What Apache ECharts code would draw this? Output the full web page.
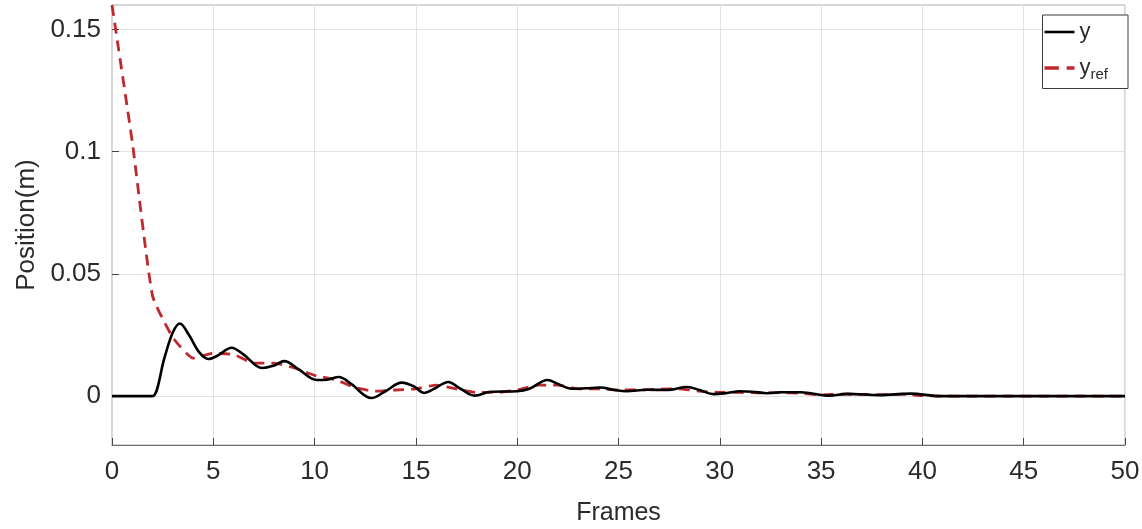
<!DOCTYPE html>
<html>
<head>
<meta charset="utf-8">
<script src="https://cdn.jsdelivr.net/npm/echarts@6/dist/echarts.min.js"></script>
<style>
html,body{margin:0;padding:0;background:#fff;}
#chart{width:1142px;height:529px;}
</style>
</head>
<body>
<div id="chart"></div>
<script>
// measured output y (black solid)
const yFrames = [0, 1.7, 2.0, 2.6, 3.0, 3.35, 3.8, 4.3, 4.75, 5.2, 5.9, 6.5, 7.4, 8.0, 8.5, 9.2, 10.1, 10.6, 11.2, 11.8, 12.8, 13.5, 14.3, 14.9, 15.4, 15.9, 16.6, 17.2, 17.9, 18.7, 20.0, 20.6, 21.5, 22.0, 22.7, 23.4, 24.1, 24.8, 25.4, 26.4, 27.4, 28.4, 29.0, 29.7, 30.3, 31.0, 31.6, 32.3, 33.0, 34.0, 35.4, 36.3, 37.9, 39.4, 40.9, 45, 50];
const yValues = [0, 0, 0, 0.016, 0.026, 0.0297, 0.025, 0.018, 0.0152, 0.0165, 0.0198, 0.017, 0.0115, 0.0125, 0.0143, 0.011, 0.0066, 0.0067, 0.0078, 0.005, -0.0008, 0.002, 0.0055, 0.004, 0.0013, 0.003, 0.0058, 0.003, 0.0002, 0.0018, 0.002, 0.003, 0.0066, 0.005, 0.003, 0.0032, 0.0035, 0.0025, 0.002, 0.0026, 0.0025, 0.0037, 0.0025, 0.0008, 0.0012, 0.002, 0.0018, 0.0012, 0.0016, 0.0016, 0.0002, 0.0009, 0.0004, 0.001, 0.0, 0.0, 0.0];
// reference y_ref (red dashed), one value per frame
const refFrames = [0,1,2,3,4,5,6,7,8,9,10,11,12,13,14,15,16,17,18,19,20,21,22,23,24,25,26,27,28,29,30,31,32,33,34,35,36,37,38,39,40,41,42,43,44,45,46,47,48,49,50];
const refValues = [0.16, 0.104, 0.041, 0.024, 0.0155, 0.0175, 0.017, 0.0135, 0.0135, 0.0115, 0.0085, 0.0068, 0.0035, 0.002, 0.0025, 0.003, 0.0045, 0.003, 0.0015, 0.0015, 0.0025, 0.0045, 0.0045, 0.003, 0.003, 0.0025, 0.0025, 0.0028, 0.003, 0.002, 0.0015, 0.0015, 0.0013, 0.0014, 0.0012, 0.0005, 0.0008, 0.0007, 0.0006, 0.0008, 0.0002, 0, 0, 0, 0, 0, 0, 0, 0, 0, 0];
const yTicks = [0, 0.05, 0.1, 0.15];
const xTicks = [0, 5, 10, 15, 20, 25, 30, 35, 40, 45, 50];

const font = 'Liberation Sans, Arial, Helvetica, sans-serif';
const textColor = '#2b2b2b';
const chart = echarts.init(document.getElementById('chart'), null, {renderer: 'canvas'});
chart.setOption({
  animation: false,
  backgroundColor: '#fff',
  grid: {left: 112, right: 17, top: 5, bottom: 84, containLabel: false, outerBoundsMode: 'none',
    show: true, borderColor: '#b0b0b0', borderWidth: 1},
  legend: {
    orient: 'vertical', right: 14, top: 15,
    padding: [6, 20, 6, 2],
    borderColor: '#3a3a3a', borderWidth: 1, backgroundColor: '#fff',
    itemWidth: 30, itemHeight: 12, itemGap: 14,
    textStyle: {
      fontFamily: font, fontSize: 22, color: textColor,
      rich: {
        m: {fontFamily: font, fontSize: 22, color: textColor},
        s: {fontFamily: font, fontSize: 15, color: textColor, verticalAlign: 'bottom', padding: [14, 0, 0, 0]}
      }
    },
    formatter: function (n) { return n === 'y_ref' ? '{m|y}{s|ref}' : '{m|' + n + '}'; },
    data: [
      {name: 'y', icon: 'path://M0,5h30v2.6h-30z'},
      {name: 'y_ref', icon: 'path://M0,5h11v2.6h-11z M17,5h6v2.6h-6z'}
    ]
  },
  xAxis: {
    type: 'value', min: xTicks[0], max: xTicks[xTicks.length - 1], interval: 5,
    name: 'Frames', nameLocation: 'middle', nameGap: 56,
    nameTextStyle: {fontFamily: font, fontSize: 25, color: textColor},
    axisLine: {show: true, onZero: false, lineStyle: {color: '#6e6e6e', width: 1}},
    axisTick: {show: true, inside: true, length: 7, lineStyle: {color: '#444'}},
    axisLabel: {fontFamily: font, fontSize: 26, color: textColor, margin: 14, customValues: xTicks},
    splitLine: {show: true, lineStyle: {color: '#e3e3e3', width: 1}}
  },
  yAxis: {
    type: 'value', min: -0.02, max: 0.16,
    name: 'Position(m)', nameLocation: 'middle', nameGap: 64, nameRotate: 90,
    nameTextStyle: {fontFamily: font, fontSize: 26, color: textColor},
    axisLine: {show: true, onZero: false, lineStyle: {color: '#d8d8d8', width: 1}},
    axisTick: {show: true, inside: true, length: 7, lineStyle: {color: '#444'}, customValues: yTicks},
    axisLabel: {fontFamily: font, fontSize: 26, color: textColor, margin: 11, customValues: yTicks,
      formatter: function (v) { return String(+v.toFixed(2)); }},
    splitLine: {show: true, lineStyle: {color: '#e3e3e3', width: 1}}
  },
  series: [
    {
      name: 'y', type: 'line', data: yFrames.map((x, i) => [x, yValues[i]]),
      smooth: 0.35, symbol: 'none',
      lineStyle: {color: '#000', width: 2.6}, itemStyle: {color: '#000'}, z: 3
    },
    {
      name: 'y_ref', type: 'line', data: refFrames.map((x, i) => [x, refValues[i]]),
      smooth: 0.15, symbol: 'none',
      lineStyle: {color: '#c0282d', width: 2.8, type: [11, 7]}, itemStyle: {color: '#c0282d'}, z: 2
    }
  ]
});
</script>
</body>
</html>
